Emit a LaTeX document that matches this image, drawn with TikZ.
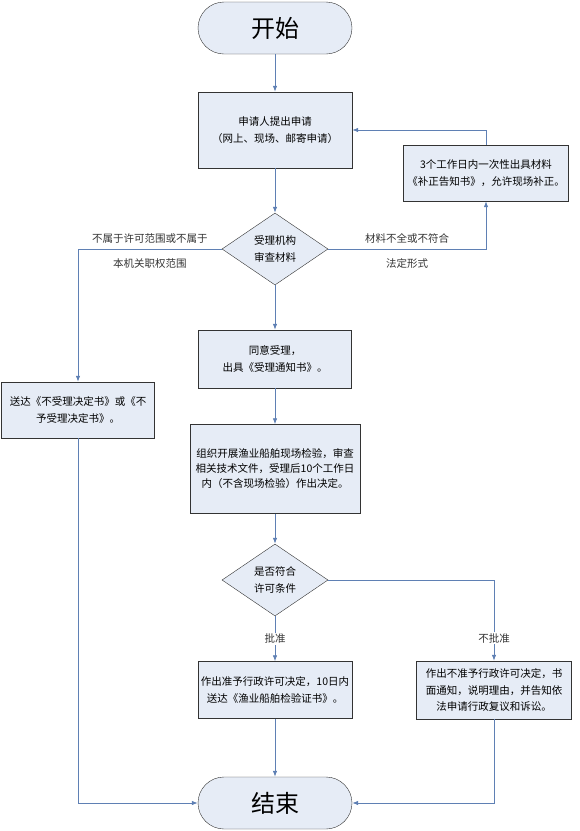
\documentclass[tikz,border=0pt]{standalone}
\usepackage{fontspec}
\setmainfont{Noto Sans CJK SC}
\usetikzlibrary{shapes.geometric,arrows.meta}
\definecolor{boxfill}{HTML}{E6ECF6}
\definecolor{linecol}{HTML}{5F80B4}
\definecolor{edgecol}{HTML}{333333}
\begin{document}
\begin{tikzpicture}[x=1pt,y=-1pt,>={Latex[length=6pt,width=4.5pt]},
  box/.style={draw=edgecol, fill=boxfill, rectangle, align=center, inner sep=1pt, font=\fontsize{10.5}{17}\selectfont},
  term/.style={draw=edgecol, fill=boxfill, rectangle, rounded corners=26pt, minimum width=154pt, minimum height=52pt, font=\fontsize{24}{28}\selectfont},
  test/.style={draw=edgecol, fill=boxfill, diamond, minimum width=106pt, minimum height=72pt, inner sep=0pt, align=center, font=\fontsize{10.5}{17}\selectfont},
  flow/.style={->, draw=linecol, line width=0.8pt},
  note/.style={font=\fontsize{10.5}{13}\selectfont, text=edgecol}]
\useasboundingbox (0,0) rectangle (580,831);
\node[term] (a) at (275,28) {开始};
\node[box, minimum width=154pt, minimum height=76pt] (b) at (275,130) {申请人提出申请\\（网上、现场、邮寄申请）};
\node[test] (c) at (275,249) {受理机构\\审查材料};
\node[box, minimum width=165pt, minimum height=56pt] (d) at (486,173) {3个工作日内一次性出具材料\\《补正告知书》，允许现场补正。};
\node[box, minimum width=153pt, minimum height=56pt] (e) at (78,410) {送达《不受理决定书》或《不\\予受理决定书》。};
\node[box, minimum width=153pt, minimum height=58pt] (f) at (275,359) {同意受理，\\出具《受理通知书》。};
\node[box, minimum width=170pt, minimum height=89pt, font=\fontsize{10.5}{15}\selectfont] (g) at (275,469) {组织开展渔业船舶现场检验，审查\\相关技术文件，受理后10个工作日\\内（不含现场检验）作出决定。};
\node[test] (h) at (275,580) {是否符合\\许可条件};
\node[box, minimum width=154pt, minimum height=57pt] (i) at (275,690) {作出准予行政许可决定，10日内\\送达《渔业船舶检验证书》。};
\node[box, minimum width=155pt, minimum height=58pt, font=\fontsize{10.5}{16.5}\selectfont] (j) at (494,690) {作出不准予行政许可决定，书\\面通知，说明理由，并告知依\\法申请行政复议和诉讼。};
\node[term] (k) at (275,803) {结束};

\draw[flow] (a) -- (b);
\draw[flow] (b) -- (c);
\draw[flow] (c.east) -| node[note, pos=0.25, above=2pt] {材料不全或不符合} node[note, pos=0.25, below=6pt] {法定形式} (d.south);
\draw[flow] (d.north) |- (b.east);
\draw[flow] (c.west) -| node[note, pos=0.25, above=2pt] {不属于许可范围或不属于} node[note, pos=0.25, below=6pt] {本机关职权范围} (e.north);
\draw[flow] (c) -- (f);
\draw[flow] (f) -- (g);
\draw[flow] (g) -- (h);
\draw[flow] (h) -- node[note, fill=white, inner sep=1pt] {批准} (i);
\draw[flow] (h.east) -| node[note, pos=0.86, fill=white, inner sep=1pt] {不批准} (j.north);
\draw[flow] (i) -- (k);
\draw[flow] (e.south) |- (k.west);
\draw[flow] (j.south) |- (k.east);
\end{tikzpicture}
\end{document}
